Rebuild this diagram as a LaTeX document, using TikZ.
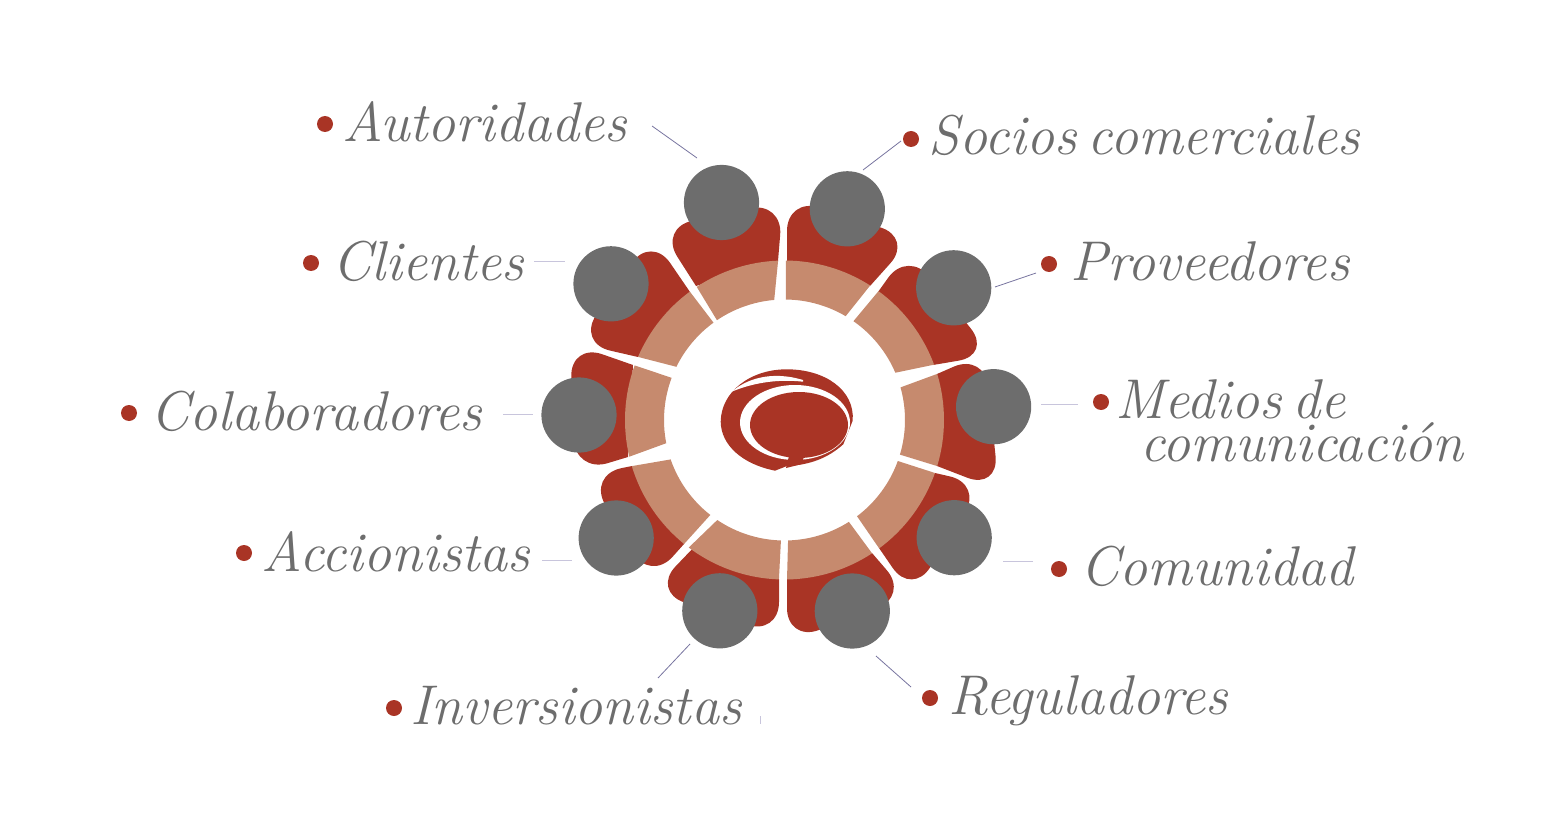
\documentclass[tikz,border=0pt]{standalone}
\usepackage{fontspec}

\definecolor{seatred}{HTML}{A93425}
\definecolor{ringtan}{HTML}{C68A6E}
\definecolor{headgray}{HTML}{6D6D6D}
\definecolor{linkdark}{HTML}{77749F}
\definecolor{linklight}{HTML}{C8C5DC}

\newcommand{\lblfont}{\fontsize{56}{43}\selectfont\itshape\spaceskip 11pt\relax}

\tikzset{
    body/.style = {fill = seatred},
    head/.style = {circle, fill = headgray, minimum size = 75.2pt, inner sep = 0pt},
    dot/.style = {circle, fill = seatred, minimum size = 16pt, inner sep = 0pt},
    lbl/.style = {anchor = base west, inner sep = 0pt, text = headgray, font = \lblfont},
    link/.style = {draw = linkdark, line width = 0.8pt},
    linkpale/.style = {draw = linklight, line width = 1pt}
}

\newcommand{\ringseat}[4]{\fill [ringtan] (#1:159.5) arc [start angle = #1, end angle = #2, radius = 159.5] -- (#4:120.5) arc [start angle = #4, end angle = #3, radius = 120.5] -- cycle;}

\begin{document}
\begin{tikzpicture}[x = 1pt, y = -1pt]
    \useasboundingbox (0,0) rectangle (1563,813);

    \fill [body] (787,262) [rounded corners = 34pt] -- (787,197) -- (913,238) [sharp corners] -- (870,286) -- cycle;
    \fill [body] (878,292) [rounded corners = 34pt] -- (908,250) -- (992,355) [sharp corners] -- (933,365) -- cycle;
    \fill [body] (937,374) [rounded corners = 34pt] -- (985,353) -- (999,490) [sharp corners] -- (937,466) -- cycle;
    \fill [body] (935,473) [rounded corners = 34pt] -- (983,484) -- (912,596) [sharp corners] -- (879,548) -- cycle;
    \fill [body] (872,553) [rounded corners = 34pt] -- (909,596) -- (787,642) [sharp corners] -- (787,579) -- cycle;
    \fill [body] (779,579) [rounded corners = 34pt] -- (779,636) -- (652,591) [sharp corners] -- (697,544) -- cycle;
    \fill [body] (684,544) [rounded corners = 34pt] -- (650,582) -- (588,475) [sharp corners] -- (632,466) -- cycle;
    \fill [body] (628,457) [rounded corners = 34pt] -- (575,473) -- (570,343) [sharp corners] -- (633,365) -- cycle;
    \fill [body] (638,357) [rounded corners = 34pt] -- (577,343) -- (651,235) [sharp corners] -- (690,292) -- cycle;
    \fill [body] (696,286) [rounded corners = 34pt] -- (659,228) -- (783,201) [sharp corners] -- (778,261) -- cycle;

    \begin{scope}[shift = {(784.5,420)}, x = 1pt, y = 1pt]
        \ringseat{89.5}{57.5}{89.3}{59.5}
        \ringseat{53.9}{20.3}{55.1}{23.1}
        \ringseat{16.8}{-16.8}{15.7}{-16.7}
        \ringseat{-19.4}{-53.6}{-19.9}{-53}
        \ringseat{-56.7}{-89.1}{-57.7}{-88.3}
        \ringseat{-92}{-126.9}{-91.7}{-123.9}
        \ringseat{-129}{-163.2}{-128}{-160.9}
        \ringseat{193.3}{160}{191.1}{159.5}
        \ringseat{156.7}{126.4}{153.8}{126.1}
        \ringseat{123.4}{92.3}{124.1}{94.9}
    \end{scope}

    \node (hSoc) at (847.3,208.8) [head] {};
    \node (hPro) at (953.7,287.8) [head] {};
    \node (hMed) at (993.6,406.7) [head] {};
    \node (hCom) at (954.2,537.7) [head] {};
    \node (hReg) at (852.3,611) [head] {};
    \node (hInv) at (719.8,610.8) [head] {};
    \node (hAcc) at (616.2,538) [head] {};
    \node (hCol) at (579,415) [head] {};
    \node (hCli) at (611,283.8) [head] {};
    \node (hAut) at (721.5,202.5) [head] {};

    \fill [seatred] (775,470.7) .. controls (742,464) and (721,445) .. (720.7,421.7) .. controls (721,392) and (750,369.3) .. (786.7,369.3) .. controls (825,369.3) and (855,390) .. (852.7,420.7) -- (843.3,444.3) .. controls (828,458) and (810,465) .. (787,466) -- cycle;
    \fill [white] (731.7,391.7) .. controls (745,380) and (770,370) .. (803,380) -- (803,381.7) .. controls (775,378.5) and (750,384) .. (731.7,391.7) -- cycle;
    \fill [white] (795,422.5) ellipse [x radius = 55, y radius = 37.5];
    \fill [seatred] (786,468) -- (790,452) -- (805,452) -- (802,464) -- cycle;
    \fill [seatred] (799,425) ellipse [x radius = 49, y radius = 33];

    \node (bAut) at (325,124) [dot] {};
    \node (bSoc) at (911,139) [dot] {};
    \node (bCli) at (311,263) [dot] {};
    \node (bPro) at (1049,264) [dot] {};
    \node (bCol) at (129,413) [dot] {};
    \node (bMed) at (1101,402) [dot] {};
    \node (bAcc) at (244,553) [dot] {};
    \node (bCom) at (1059,569) [dot] {};
    \node (bInv) at (394,708) [dot] {};
    \node (bReg) at (930,698) [dot] {};

    \node (lAut) at (342,142) [lbl] {Autoridades};
    \node (lSoc) at (928,155) [lbl] {Socios comerciales};
    \node (lCli) at (332,280) [lbl] {Clientes};
    \node (lPro) at (1070,280) [lbl] {Proveedores};
    \node (lCol) at (150,430) [lbl] {Colaboradores};
    \node (lMed) at (1115,461) [lbl, align = left] {Medios de\\\hspace*{25pt}comunicación};
    \node (lAcc) at (261,571) [lbl] {Accionistas};
    \node (lCom) at (1080,585) [lbl] {Comunidad};
    \node (lInv) at (410,724) [lbl] {Inversionistas};
    \node (lReg) at (948,714) [lbl] {Reguladores};

    \coordinate (aAut) at (652,126);
    \coordinate (cAut) at (697,158);
    \coordinate (aSoc) at (901,141);
    \coordinate (cSoc) at (863,170);
    \coordinate (aPro) at (1036,273);
    \coordinate (cPro) at (995,287);
    \coordinate (aCli) at (534,261);
    \coordinate (cCli) at (565,261);
    \coordinate (aCol) at (503,414);
    \coordinate (cCol) at (533,414);
    \coordinate (aMed) at (1078,404);
    \coordinate (cMed) at (1041,404);
    \coordinate (aAcc) at (542,560);
    \coordinate (cAcc) at (572,560);
    \coordinate (aCom) at (1033,561);
    \coordinate (cCom) at (1003,561);
    \coordinate (aInv) at (658,678);
    \coordinate (cInv) at (690,644);
    \coordinate (aReg) at (911,687);
    \coordinate (cReg) at (876,656);
    \coordinate (aTick) at (760,716);
    \coordinate (cTick) at (760,724);

    \draw [link] (aAut) -- (cAut);
    \draw [link] (aSoc) -- (cSoc);
    \draw [link] (aPro) -- (cPro);
    \draw [linkpale] (aCli) -- (cCli);
    \draw [linkpale] (aCol) -- (cCol);
    \draw [linkpale] (aMed) -- (cMed);
    \draw [linkpale] (aAcc) -- (cAcc);
    \draw [linkpale] (aCom) -- (cCom);
    \draw [link] (aInv) -- (cInv);
    \draw [link] (aReg) -- (cReg);
    \draw [linkpale] (aTick) -- (cTick);
\end{tikzpicture}
\end{document}
